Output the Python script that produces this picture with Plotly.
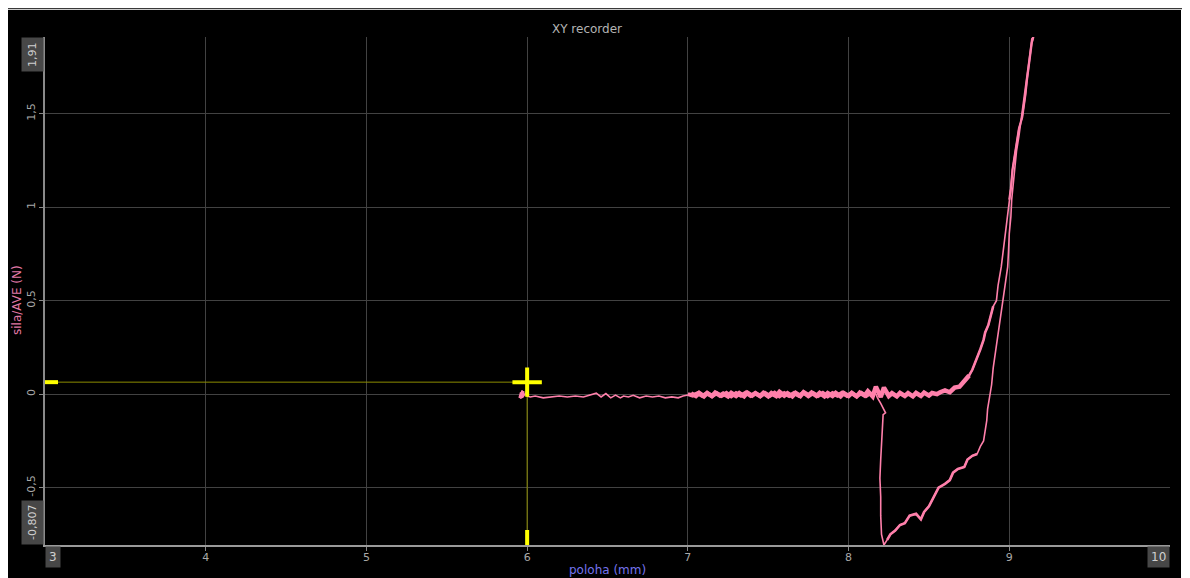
import plotly.graph_objects as go

# ---------------- data ----------------
title_text = "XY recorder"
x_title = "poloha (mm)"
y_title = "sila/AVE (N)"

x_range = [3, 10]
y_range = [-0.807, 1.91]
x_ticks = [4, 5, 6, 7, 8, 9]
x_ticktext = ["4", "5", "6", "7", "8", "9"]
y_ticks = [-0.5, 0, 0.5, 1, 1.5]
y_ticktext = ["-0,5", "0", "0,5", "1", "1,5"]
x_end_labels = ["3", "10"]
y_end_labels = ["1,91", "-0,807"]

cursor_x = 6.0
cursor_y = 0.064

# approach (thin, single pass)
approach = [(5.96, 0.01), (5.95, -0.02), (5.97, 0.02), (5.96, -0.025), (5.98, 0.015),
            (5.97, -0.02), (5.99, 0.005), (6.0, -0.01), (6.02, -0.015), (6.05, -0.01),
            (6.1, -0.02), (6.15, -0.015), (6.2, -0.01), (6.25, -0.015), (6.3, -0.01),
            (6.35, -0.015), (6.4, -0.005), (6.43, 0.005), (6.46, -0.015), (6.49, 0.003),
            (6.52, -0.02), (6.55, -0.005), (6.58, -0.02), (6.6, -0.01), (6.63, -0.015),
            (6.66, -0.006), (6.7, -0.02), (6.74, -0.01), (6.78, -0.015), (6.82, -0.01),
            (6.86, -0.02), (6.9, -0.015), (6.94, -0.02), (6.97, -0.01), (7.0, -0.005)]

# noisy contact band going right
band_out = [(7.02, 0.004), (7.05, -0.01), (7.07, 0.006), (7.1, -0.012), (7.12, 0.005),
            (7.15, -0.01), (7.17, 0.008), (7.2, -0.008), (7.22, 0.003), (7.25, -0.012),
            (7.27, 0.006), (7.3, -0.01), (7.32, 0.005), (7.35, -0.012), (7.37, 0.008),
            (7.4, -0.008), (7.42, 0.005), (7.45, -0.01), (7.47, 0.006), (7.5, -0.012),
            (7.52, 0.005), (7.55, -0.01), (7.57, 0.012), (7.6, -0.008), (7.62, 0.005),
            (7.65, -0.012), (7.67, 0.006), (7.7, -0.01), (7.72, 0.01), (7.75, -0.006),
            (7.77, 0.008), (7.8, -0.01), (7.82, 0.006), (7.85, -0.012), (7.87, 0.005),
            (7.9, -0.01), (7.92, 0.006), (7.95, -0.012), (7.97, 0.005), (8.0, -0.01),
            (8.02, 0.006), (8.05, -0.012), (8.07, 0.008), (8.1, -0.008), (8.12, 0.015),
            (8.15, -0.012), (8.17, 0.04), (8.2, -0.015), (8.22, 0.035), (8.25, -0.01),
            (8.27, 0.005), (8.3, -0.012), (8.32, 0.006), (8.35, -0.01), (8.37, 0.005),
            (8.4, -0.012), (8.42, 0.006), (8.45, -0.01), (8.47, 0.008), (8.5, -0.008),
            (8.52, 0.006), (8.55, 0.0)]

# loading branch
rise = [(8.57, 0.01), (8.6, 0.02), (8.63, 0.01), (8.66, 0.035), (8.69, 0.04),
        (8.71, 0.065), (8.73, 0.08), (8.75, 0.1), (8.77, 0.13), (8.79, 0.17),
        (8.8, 0.2), (8.82, 0.24), (8.84, 0.29), (8.85, 0.33), (8.87, 0.37),
        (8.89, 0.43), (8.9, 0.47), (8.92, 0.5), (8.93, 0.58), (8.95, 0.68),
        (8.96, 0.75), (8.97, 0.81), (8.98, 0.9), (8.99, 0.97), (9.0, 1.04),
        (9.01, 1.1), (9.02, 1.2), (9.035, 1.28), (9.05, 1.35), (9.06, 1.42),
        (9.08, 1.48), (9.09, 1.53), (9.1, 1.6), (9.11, 1.68), (9.12, 1.75),
        (9.13, 1.82), (9.14, 1.88), (9.15, 1.91)]

# unloading branch and lower loop
fall = [(9.14, 1.9), (9.125, 1.8), (9.11, 1.7), (9.1, 1.62), (9.085, 1.55),
        (9.075, 1.46), (9.06, 1.38), (9.045, 1.3), (9.035, 1.22), (9.025, 1.12),
        (9.015, 1.04), (9.01, 0.95), (9.0, 0.86), (8.995, 0.76), (8.99, 0.68),
        (8.975, 0.59), (8.96, 0.5), (8.945, 0.42), (8.93, 0.33), (8.915, 0.24),
        (8.9, 0.14), (8.89, 0.05), (8.88, -0.01), (8.865, -0.08), (8.86, -0.14),
        (8.85, -0.2), (8.84, -0.25), (8.82, -0.28), (8.8, -0.32), (8.77, -0.33),
        (8.74, -0.35), (8.72, -0.39), (8.68, -0.4), (8.65, -0.42), (8.63, -0.46),
        (8.6, -0.48), (8.56, -0.5), (8.53, -0.55), (8.5, -0.6), (8.47, -0.63),
        (8.45, -0.67), (8.42, -0.64), (8.38, -0.65), (8.35, -0.69), (8.32, -0.7),
        (8.29, -0.73), (8.26, -0.75), (8.24, -0.78), (8.22, -0.807)]

# vertical return at ~8.2
climb = [(8.205, -0.75), (8.2, -0.65), (8.2, -0.55), (8.195, -0.45), (8.2, -0.35),
         (8.205, -0.25), (8.21, -0.15), (8.215, -0.11), (8.23, -0.1), (8.215, -0.07),
         (8.2, -0.05), (8.18, -0.02), (8.17, 0.0)]

# second pass of the band going left
band_back = [(8.14, 0.008), (8.11, -0.01), (8.08, 0.006), (8.05, -0.012), (8.02, 0.005),
             (7.99, -0.01), (7.96, 0.008), (7.93, -0.008), (7.9, 0.005), (7.87, -0.012),
             (7.84, 0.006), (7.81, -0.01), (7.78, 0.005), (7.75, -0.012), (7.72, 0.008),
             (7.69, -0.008), (7.66, 0.006), (7.63, -0.01), (7.6, 0.005), (7.57, -0.012),
             (7.54, 0.008), (7.51, -0.01), (7.48, 0.006), (7.45, -0.012), (7.42, 0.005),
             (7.39, -0.01), (7.36, 0.008), (7.33, -0.008), (7.3, 0.005), (7.27, -0.012),
             (7.24, 0.006), (7.21, -0.01), (7.18, 0.005), (7.15, -0.012), (7.12, 0.006),
             (7.09, -0.01), (7.06, 0.005), (7.03, -0.008), (7.0, 0.0)]

segments = [approach, band_out, rise, fall, climb, band_back]

# ---------------- geometry (the page adds an 8 px body margin) ----------------
OFF = 8
W, H = 1174, 570
ML, MR, MT, MB = 37, 12, 29, 33
PW, PH = W - ML - MR, H - MT - MB


def px(page_x):
    return (page_x - OFF - ML) / PW


def py(page_y):
    return (H - MB - (page_y - OFF)) / PH


def xy(seg):
    return [p[0] for p in seg], [p[1] for p in seg]


curve_x, curve_y = [], []
for seg in segments:
    sx, sy = xy(seg)
    curve_x += sx
    curve_y += sy

pink = "#ff80ab"
yellow = "#ffff00"
olive = "#8c8c00"
grid = "#424242"
label_col = "#a8a8a8"
font_family = "DejaVu Sans, Verdana, sans-serif"

fig = go.Figure()

# cursor crosshair lines
fig.add_trace(go.Scatter(x=[x_range[0], cursor_x], y=[cursor_y, cursor_y], mode="lines",
                         line=dict(color=olive, width=1), hoverinfo="skip"))
fig.add_trace(go.Scatter(x=[cursor_x, cursor_x], y=[cursor_y, y_range[0]], mode="lines",
                         line=dict(color=olive, width=1), hoverinfo="skip"))

# recorded curve
fig.add_trace(go.Scatter(x=curve_x, y=curve_y, mode="lines",
                         line=dict(color=pink, width=1.6), hoverinfo="skip"))
# noisier stretches, drawn heavier
heavy = [(band_out + rise[:8], 4.5), (band_back, 4.0), (rise[5:17], 2.6), (fall[28:48], 2.6),
         (rise[24:], 2.2)]
for seg, wdt in heavy:
    sx, sy = xy(seg)
    fig.add_trace(go.Scatter(x=sx, y=sy, mode="lines",
                             line=dict(color=pink, width=wdt), hoverinfo="skip"))

# cursor cross
fig.add_trace(go.Scatter(x=[cursor_x], y=[cursor_y], mode="markers",
                         marker=dict(symbol="cross-thin", size=21,
                                     line=dict(color=yellow, width=4)),
                         hoverinfo="skip", cliponaxis=False))

# axis markers of the cursor
x_unit_px = PW / (x_range[1] - x_range[0])
y_unit_px = PH / (y_range[1] - y_range[0])
fig.add_trace(go.Scatter(x=[x_range[0] - 2 / x_unit_px, x_range[0] + 13 / x_unit_px],
                         y=[cursor_y, cursor_y], mode="lines",
                         line=dict(color=yellow, width=4), hoverinfo="skip",
                         cliponaxis=False))
fig.add_trace(go.Scatter(x=[cursor_x, cursor_x],
                         y=[y_range[0], y_range[0] + 15 / y_unit_px], mode="lines",
                         line=dict(color=yellow, width=4), hoverinfo="skip",
                         cliponaxis=False))

shapes = [
    # black panel
    dict(type="rect", xref="paper", yref="paper", x0=px(8), x1=px(1181), y0=py(H + OFF + 2),
         y1=py(10), fillcolor="black", line=dict(width=0), layer="below"),
    # top rule
    dict(type="line", xref="paper", yref="paper", x0=px(0), x1=px(1190), y0=py(8.5), y1=py(8.5),
         line=dict(color="#3a3a3a", width=1.5)),
]

annotations = [
    dict(text=title_text, xref="paper", yref="paper", x=px(587), y=py(29), showarrow=False,
         font=dict(family=font_family, size=12, color="#b4b4b4"), xanchor="center", yanchor="middle"),
    dict(text=x_title, xref="paper", yref="paper", x=px(607), y=py(570), showarrow=False,
         font=dict(family=font_family, size=12, color="#7474ee"), xanchor="center", yanchor="middle"),
    dict(text=y_title, xref="paper", yref="paper", x=px(17), y=py(300), showarrow=False,
         textangle=-90, font=dict(family=font_family, size=12, color="#e27aa8"),
         xanchor="center", yanchor="middle"),
    # boxed range labels
    dict(text=y_end_labels[0], xref="paper", yref="y", x=0, y=y_range[1], showarrow=False,
         textangle=-90, xanchor="right", yanchor="top", bgcolor="#474747", borderpad=4,
         font=dict(family=font_family, size=11, color="#d0d0d0"), xshift=-1),
    dict(text=y_end_labels[1], xref="paper", yref="y", x=0, y=y_range[0], showarrow=False,
         textangle=-90, xanchor="right", yanchor="bottom", bgcolor="#474747", borderpad=4,
         font=dict(family=font_family, size=11, color="#d0d0d0"), xshift=-1),
    dict(text=x_end_labels[0], xref="x", yref="paper", x=x_range[0], y=0, showarrow=False,
         xanchor="left", yanchor="top", bgcolor="#474747", borderpad=3,
         font=dict(family=font_family, size=12, color="#d0d0d0"), yshift=-1),
    dict(text=x_end_labels[1], xref="x", yref="paper", x=x_range[1], y=0, showarrow=False,
         xanchor="right", yanchor="top", bgcolor="#474747", borderpad=3,
         font=dict(family=font_family, size=12, color="#d0d0d0"), yshift=-1),
]

fig.update_layout(
    width=W, height=H,
    margin=dict(l=ML, r=MR, t=MT, b=MB, pad=0),
    paper_bgcolor="white", plot_bgcolor="black",
    separators=", ",
    shapes=shapes, annotations=annotations,
    font=dict(family=font_family, size=11, color=label_col),
    showlegend=False,
)
fig.update_xaxes(range=x_range, tickvals=x_ticks, ticktext=x_ticktext, showgrid=True,
                 gridcolor=grid, gridwidth=1, zeroline=False, showline=True,
                 linecolor="#9a9a9a", linewidth=2, ticks="outside", ticklen=4,
                 tickcolor="#888888", tickfont=dict(size=11, color=label_col),
                 ticklabelstandoff=-3, fixedrange=True)
fig.update_yaxes(range=y_range, tickvals=y_ticks, ticktext=y_ticktext, showgrid=True,
                 gridcolor=grid, gridwidth=1, zeroline=False, showline=True,
                 linecolor="#8a8a8a", linewidth=2, ticks="outside", ticklen=4,
                 tickcolor="#888888", tickangle=-90, tickfont=dict(size=11, color=label_col),
                 fixedrange=True)

fig.write_html("out.html")
